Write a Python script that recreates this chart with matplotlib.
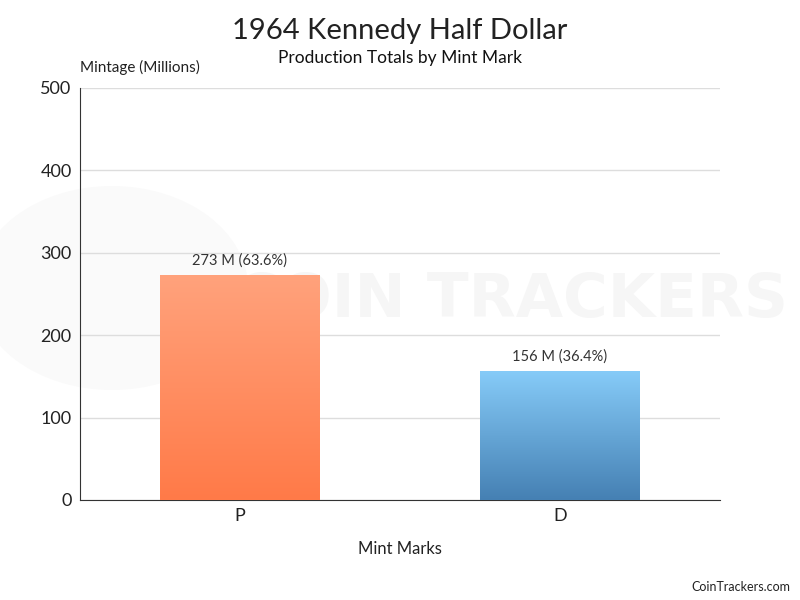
import matplotlib
matplotlib.use("Agg")
import matplotlib.pyplot as plt
import numpy as np
from matplotlib.colors import LinearSegmentedColormap
from matplotlib.patches import Circle

plt.rcParams['font.family'] = ['Lato', 'DejaVu Sans']

mint_marks = ["P", "D"]
mintage = [273, 156]
labels = ["273 M (63.6%)", "156 M (36.4%)"]
grad_colors = [("#FF7A48", "#FFA27C"), ("#4580B3", "#86CBF8")]

fig = plt.figure(figsize=(8, 6), dpi=100)
ax = fig.add_axes([0.1, 1 - 500 / 600, 0.8, 412 / 600])

# faint watermark behind the chart
fig.patches.append(Circle((0.14, 0.52), 0.17, transform=fig.transFigure,
                          facecolor="#fafafa", edgecolor="none", zorder=-5))
fig.text(0.985, 0.5, "COIN TRACKERS", fontsize=44, fontweight="bold",
         family="DejaVu Sans", color="#f6f6f6",
         ha="right", va="center", zorder=-4)
ax.patch.set_alpha(0)

bars = ax.bar(range(len(mint_marks)), mintage, width=0.5, color="none", zorder=3)
for bar, (c_bot, c_top), txt in zip(bars, grad_colors, labels):
    x0, y0 = bar.get_x(), bar.get_y()
    w, h = bar.get_width(), bar.get_height()
    cmap = LinearSegmentedColormap.from_list("g", [c_bot, c_top])
    grad = np.linspace(0, 1, 256).reshape(-1, 1)
    im = ax.imshow(grad, extent=[x0, x0 + w, y0, y0 + h], origin="lower",
                   aspect="auto", cmap=cmap, zorder=3)
    im.set_clip_path(bar)
    ax.text(x0 + w / 2, y0 + h + 9, txt, ha="center", va="bottom",
            fontsize=10.5, color="#333333", zorder=4)

ax.set_xlim(-0.5, 1.5)
ax.set_ylim(0, 500)
ax.set_yticks(range(0, 501, 100))
ax.set_xticks(range(len(mint_marks)))
ax.set_xticklabels(mint_marks)
ax.tick_params(length=0, labelsize=13, colors="#222222", pad=6)
ax.yaxis.grid(True, color="#dddddd", linewidth=1)
ax.set_axisbelow(True)
for s in ["top", "right"]:
    ax.spines[s].set_visible(False)
ax.spines["left"].set_color("#333333")
ax.spines["bottom"].set_color("#333333")
ax.set_xlabel("Mint Marks", fontsize=12, color="#222222", labelpad=12)

fig.text(0.5, 0.948, "1964 Kennedy Half Dollar", ha="center", va="center",
         fontsize=21, color="#222222")
fig.text(0.5, 0.903, "Production Totals by Mint Mark", ha="center", va="center",
         fontsize=12.5, color="#111111")
fig.text(0.1, 0.888, "Mintage (Millions)", ha="left", va="center",
         fontsize=11, color="#222222")
fig.text(0.988, 0.022, "CoinTrackers.com", ha="right", va="center",
         fontsize=9, color="#222222")

fig.savefig("out.png", dpi=100)
